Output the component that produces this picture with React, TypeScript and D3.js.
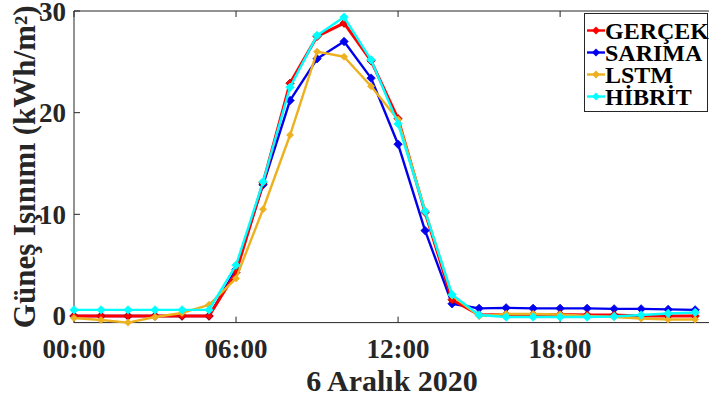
import React from "react";
import * as d3 from "d3";

const hours = d3.range(0, 24);
const gercek = [0, 0, 0, 0, 0, 0, 4.3, 13.1, 22.9, 27.5, 28.8, 25.1, 19.4, 10.2, 1.6, 0.1, 0.15, 0.15, 0.15, 0.1, 0.1, 0.0, 0.0, 0.0];
const sarima = [0, 0, 0, 0, 0, 0, 4.6, 12.9, 21.2, 25.3, 27.0, 23.4, 16.9, 8.4, 1.2, 0.75, 0.8, 0.75, 0.75, 0.75, 0.7, 0.7, 0.65, 0.6];
const lstm = [-0.2, -0.4, -0.65, -0.1, 0.3, 1.1, 3.7, 10.5, 17.8, 26.0, 25.5, 22.6, 19.3, 10.4, 2.0, 0.0, 0.2, 0.2, 0.15, 0.0, -0.1, -0.25, -0.35, -0.35];
const hibrit = [0.6, 0.6, 0.6, 0.6, 0.6, 0.6, 5.0, 13.2, 22.5, 27.6, 29.4, 25.2, 18.9, 10.3, 2.1, 0.1, -0.1, -0.1, -0.1, -0.1, -0.05, 0.1, 0.25, 0.35];

const seriesNames = ["GERÇEK", "SARIMA", "LSTM", "HİBRİT"];
const seriesColors = ["#ff0000", "#0000ee", "#edb120", "#00ffff"];
const xTicks = [0, 6, 12, 18];
const xTickLabels = ["00:00", "06:00", "12:00", "18:00"];
const yTicks = [0, 10, 20, 30];

const W = 709;
const H = 401;
const left = 74, right = 710, top = 11, bottom = 322.6;

export default function App() {
  const x = d3.scaleLinear().domain([0, 23.55]).range([left, right]);
  const y = d3.scaleLinear().domain([-0.65, 30]).range([bottom, top]);
  const data = [gercek, sarima, lstm, hibrit];
  const drawOrder = [1, 0, 2, 3];
  const line = d3.line<number>().x((_, i) => x(hours[i])).y((v) => y(v));
  const font = "'Liberation Serif', 'Times New Roman', serif";
  const axisColor = "#262626";
  const diamond = (cx: number, cy: number, r: number) =>
    `M${cx},${cy - r}L${cx + r},${cy}L${cx},${cy + r}L${cx - r},${cy}Z`;

  return (
    <svg width={W} height={H} style={{ position: "absolute", left: 0, top: 0, background: "#fff" }} fontFamily={font}>
      <rect x={0} y={0} width={W} height={H} fill="#fff" />
      <path d={`M${left},${top}H${right}M${left},${top}V${bottom}H${right}`} fill="none" stroke={axisColor} strokeWidth={1} />
      {xTicks.map((t) => (
        <g key={"xt" + t}>
          <line x1={x(t)} x2={x(t)} y1={bottom} y2={bottom - 6} stroke={axisColor} />
          <line x1={x(t)} x2={x(t)} y1={top} y2={top + 6} stroke={axisColor} />
        </g>
      ))}
      {yTicks.map((t) => (
        <line key={"yt" + t} x1={left} x2={left + 6} y1={y(t)} y2={y(t)} stroke={axisColor} />
      ))}
      {drawOrder.map((si) => (
        <g key={"s" + si}>
          <path d={line(data[si]) || ""} fill="none" stroke={seriesColors[si]} strokeWidth={si === 0 ? 3 : 2.4} strokeLinejoin="round" />
          {data[si].map((v, i) => (
            <path key={i} d={diamond(x(hours[i]), y(v), si === 2 ? 3.5 : 4.2)} fill={seriesColors[si]} stroke={si === 0 ? "#b00000" : seriesColors[si]} strokeWidth={0.8} />
          ))}
        </g>
      ))}
      {xTicks.map((t, i) => (
        <text key={"xl" + t} x={x(t)} y={358} textAnchor="middle" fontSize={27} fontWeight="bold" fill="#262626">
          {xTickLabels[i]}
        </text>
      ))}
      {yTicks.map((t) => (
        <text key={"yl" + t} x={66} y={y(t) + 9.5} textAnchor="end" fontSize={27} fontWeight="bold" fill="#262626">
          {t}
        </text>
      ))}
      <text x={(left + right) / 2} y={391} textAnchor="middle" fontSize={30} fontWeight="bold" fill="#262626">
        6 Aralık 2020
      </text>
      <text transform={`translate(35,${(top + bottom) / 2}) rotate(-90)`} textAnchor="middle" fontSize={31} fontWeight="bold" fill="#262626">
        Güneş Işınımı (kWh/m²)
      </text>
      <g>
        <rect x={584.5} y={13.5} width={123} height={98} fill="#fff" stroke={axisColor} strokeWidth={1} />
        {seriesNames.map((n, i) => {
          const ly = 30.5 + i * 22;
          return (
            <g key={n}>
              <line x1={587} x2={605} y1={ly} y2={ly} stroke={seriesColors[i]} strokeWidth={2.4} />
              <path d={diamond(596, ly, 4)} fill={seriesColors[i]} />
              <text x={605} y={ly + 8.5} fontSize={24} fontWeight="bold" fill="#000">{n}</text>
            </g>
          );
        })}
      </g>
    </svg>
  );
}
